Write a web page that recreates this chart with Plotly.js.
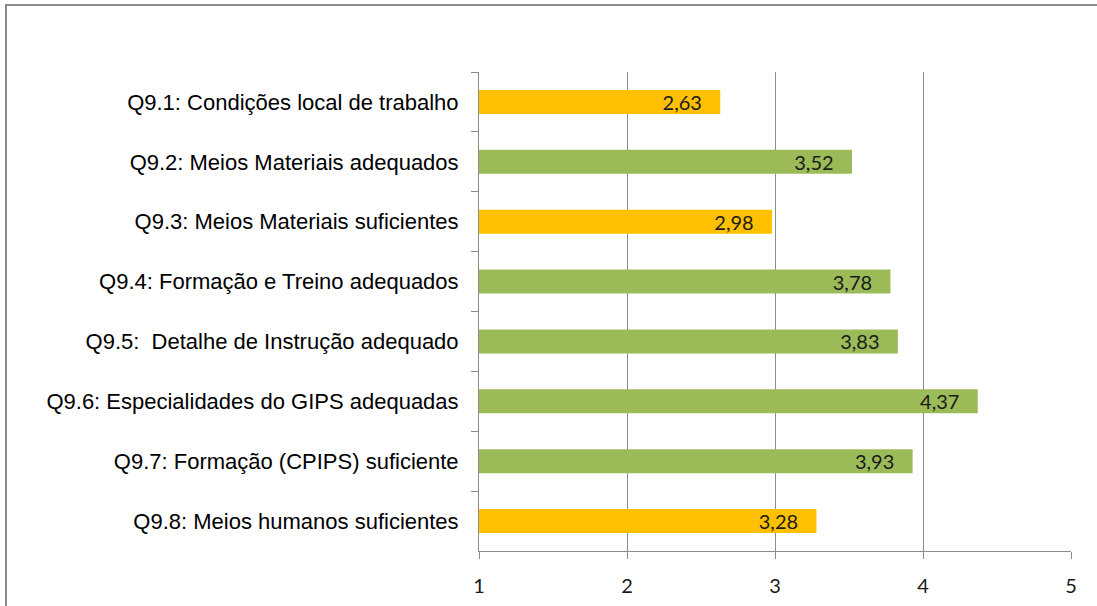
<!DOCTYPE html>
<html>
<head>
<meta charset="utf-8">
<script src="https://cdn.plot.ly/plotly-3.0.1.min.js"></script>
<style>
html,body{margin:0;padding:0;background:#fff;}
#wrap{position:relative;width:1097px;height:606px;overflow:hidden;}
#chart{position:absolute;left:0;top:0;width:1097px;height:606px;}
#frame{position:absolute;left:5px;top:4px;width:1200px;height:700px;border-left:2px solid #8a8a8a;border-top:2px solid #8a8a8a;pointer-events:none;}
</style>
</head>
<body>
<div id="wrap"><div id="chart"></div><div id="frame"></div></div>
<script>
const categories = [
  "Q9.1: Condições local de trabalho",
  "Q9.2: Meios Materiais adequados",
  "Q9.3: Meios Materiais suficientes",
  "Q9.4: Formação e Treino adequados",
  "Q9.5:  Detalhe de Instrução adequado",
  "Q9.6: Especialidades do GIPS adequadas",
  "Q9.7: Formação (CPIPS) suficiente",
  "Q9.8: Meios humanos suficientes"
];
const values = [2.63, 3.52, 2.98, 3.78, 3.83, 4.37, 3.93, 3.28];
const barColors = ["#FFC000", "#9BBB59", "#FFC000", "#9BBB59", "#9BBB59", "#9BBB59", "#9BBB59", "#FFC000"];
const xTicks = [1, 2, 3, 4, 5];

const trace = {
  type: "bar",
  orientation: "h",
  y: categories,
  x: values,
  marker: {color: barColors, line: {width: 0}},
  texttemplate: "%{x:.2f}\u00a0\u00a0\u00a0",
  textposition: "inside",
  insidetextanchor: "end",
  constraintext: "none",
  textfont: {family: "Lato, 'Open Sans', sans-serif", size: 20, color: "#1a1a1a"},
  hoverinfo: "none",
  cliponaxis: true
};

const layout = {
  width: 1097, height: 606,
  margin: {l: 479, r: 26, t: 72, b: 55},
  paper_bgcolor: "#ffffff",
  plot_bgcolor: "#ffffff",
  separators: ",.",
  showlegend: false,
  bargap: 0.6,
  xaxis: {
    range: [1, 5],
    tickvals: xTicks,
    ticktext: xTicks.map(String),
    showgrid: true,
    gridcolor: "#8c8c8c",
    gridwidth: 1,
    zeroline: false,
    showline: true,
    linecolor: "#8c8c8c",
    linewidth: 1,
    ticks: "outside",
    ticklen: 7,
    tickcolor: "#8c8c8c",
    ticklabelstandoff: 10,
    tickfont: {family: "Lato, 'Open Sans', sans-serif", size: 20, color: "#1a1a1a"},
    fixedrange: true
  },
  yaxis: {
    type: "category",
    autorange: "reversed",
    showline: true,
    linecolor: "#8c8c8c",
    linewidth: 1,
    ticks: "outside",
    tickson: "boundaries",
    ticklen: 7,
    tickcolor: "#8c8c8c",
    showgrid: false,
    ticklabelstandoff: 15,
    tickfont: {family: "'Liberation Sans', Arial, sans-serif", size: 22, color: "#000000"},
    fixedrange: true
  }
};

Plotly.newPlot("chart", [trace], layout, {staticPlot: true, displayModeBar: false});
</script>
</body>
</html>
